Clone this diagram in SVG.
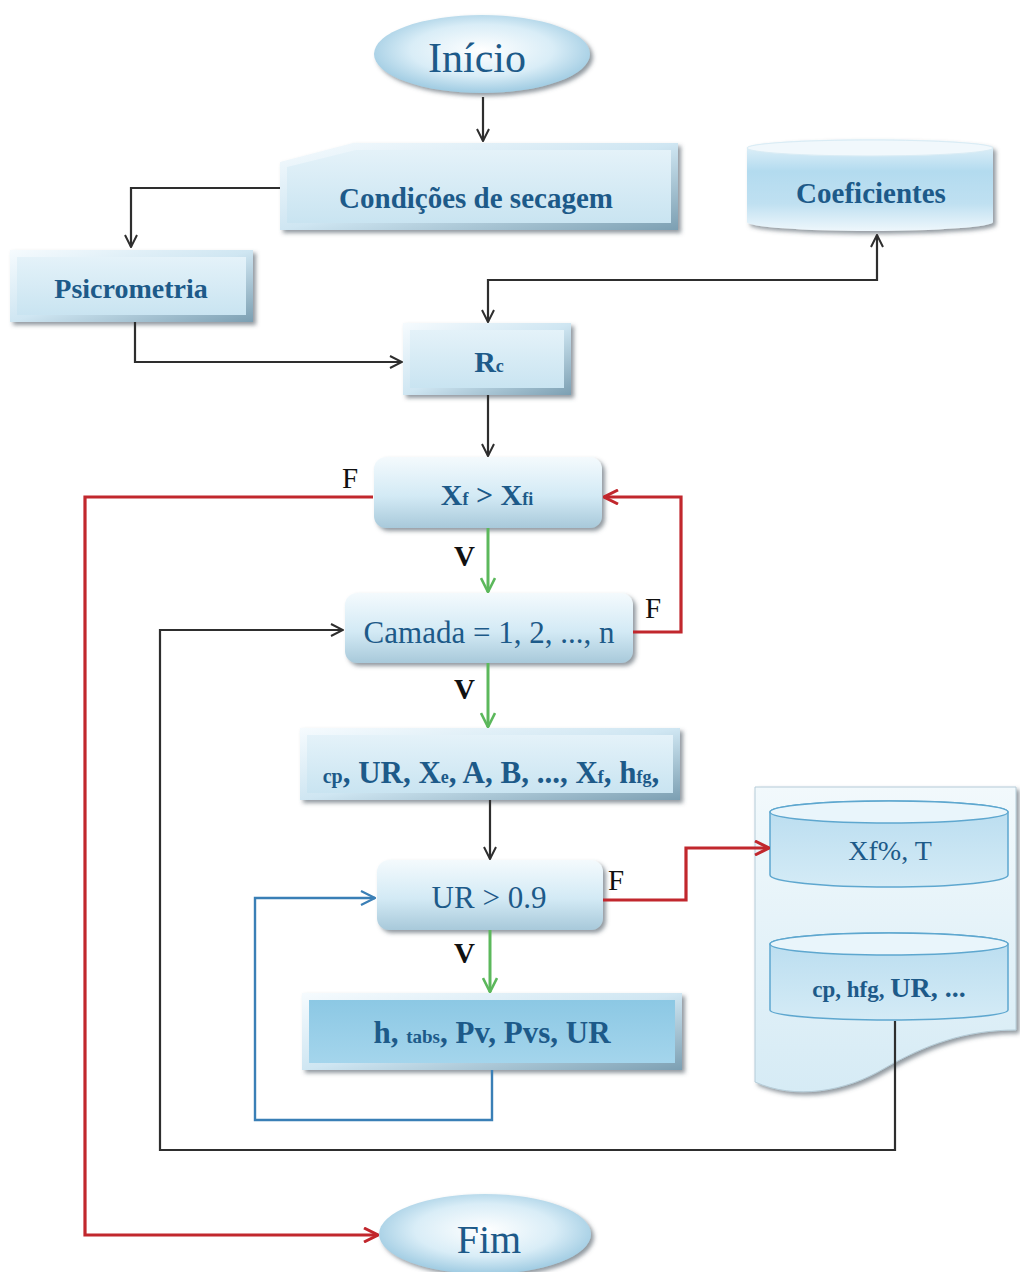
<svg xmlns="http://www.w3.org/2000/svg" width="1020" height="1272" viewBox="0 0 1020 1272">
  <style>
    .lbl { font-family: "Liberation Serif", "Times New Roman", serif; fill: #1d5a89; text-anchor: middle; }
    .b { font-weight: bold; }
    .yn { font-family: "Liberation Serif", "Times New Roman", serif; fill: #111; font-size: 29px; }
    .k { fill: none; stroke: #2e2e2e; stroke-width: 2.2; }
    .r { fill: none; stroke: #c1272d; stroke-width: 3.2; }
    .g { fill: none; stroke: #5cb85c; stroke-width: 3; }
    .bl { fill: none; stroke: #3a7fb6; stroke-width: 2.4; }
  </style>
  <defs>
    <filter id="sh" x="-10%" y="-20%" width="125%" height="150%">
      <feDropShadow dx="3" dy="3" stdDeviation="2" flood-color="#4a5560" flood-opacity="0.6"/>
    </filter>
    <linearGradient id="bevel" x1="0" y1="0" x2="1" y2="1">
      <stop offset="0" stop-color="#f6fbfe"/>
      <stop offset="0.5" stop-color="#cfe6f2"/>
      <stop offset="1" stop-color="#7c9fb2"/>
    </linearGradient>
    <linearGradient id="face" x1="0" y1="0" x2="0" y2="1">
      <stop offset="0" stop-color="#e4f2f9"/>
      <stop offset="1" stop-color="#c9e4f1"/>
    </linearGradient>
    <linearGradient id="faceDark" x1="0" y1="0" x2="0" y2="1">
      <stop offset="0" stop-color="#8cc8e4"/>
      <stop offset="1" stop-color="#a4d5ec"/>
    </linearGradient>
    <linearGradient id="round" x1="0" y1="0" x2="0" y2="1">
      <stop offset="0" stop-color="#f4fafd"/>
      <stop offset="0.55" stop-color="#d3eaf5"/>
      <stop offset="1" stop-color="#a8c9da"/>
    </linearGradient>
    <radialGradient id="oval" cx="0.5" cy="0.45" r="0.55">
      <stop offset="0" stop-color="#ffffff"/>
      <stop offset="0.6" stop-color="#d9edf7"/>
      <stop offset="1" stop-color="#9fcbe2"/>
    </radialGradient>
    <linearGradient id="cyl" x1="0" y1="0" x2="0" y2="1">
      <stop offset="0" stop-color="#eaf5fb"/>
      <stop offset="0.35" stop-color="#b3dbef"/>
      <stop offset="0.7" stop-color="#bfe0f1"/>
      <stop offset="1" stop-color="#eef7fc"/>
    </linearGradient>
    <linearGradient id="cyl2" x1="0" y1="0" x2="0" y2="1">
      <stop offset="0" stop-color="#b8dcef"/>
      <stop offset="1" stop-color="#d4ebf6"/>
    </linearGradient>
    <linearGradient id="doc" x1="0" y1="0" x2="0" y2="1">
      <stop offset="0" stop-color="#f2f9fc"/>
      <stop offset="1" stop-color="#d6ebf5"/>
    </linearGradient>
    <marker id="ak" viewBox="0 0 14 14" refX="13" refY="7" markerWidth="14" markerHeight="14" markerUnits="userSpaceOnUse" orient="auto-start-reverse">
      <path d="M1,1 L13,7 L1,13" fill="none" stroke="#2e2e2e" stroke-width="2"/>
    </marker>
    <marker id="ar" viewBox="0 0 16 16" refX="15" refY="8" markerWidth="16" markerHeight="16" markerUnits="userSpaceOnUse" orient="auto">
      <path d="M1,1 L15,8 L1,15" fill="none" stroke="#c1272d" stroke-width="3"/>
    </marker>
    <marker id="ag" viewBox="0 0 16 16" refX="15" refY="8" markerWidth="16" markerHeight="16" markerUnits="userSpaceOnUse" orient="auto">
      <path d="M1,1 L15,8 L1,15" fill="none" stroke="#5cb85c" stroke-width="2.6"/>
    </marker>
    <marker id="ab" viewBox="0 0 16 16" refX="15" refY="8" markerWidth="16" markerHeight="16" markerUnits="userSpaceOnUse" orient="auto">
      <path d="M1,1 L15,8 L1,15" fill="none" stroke="#3a7fb6" stroke-width="2.2"/>
    </marker>
  </defs>

  <rect width="1020" height="1272" fill="#ffffff"/>

  <g id="inicio">
    <ellipse cx="482" cy="54" rx="108" ry="39" fill="url(#oval)" filter="url(#sh)"/>
    <text class="lbl" x="477" y="72" font-size="42">Início</text>
  </g>

  <g id="condicoes">
    <polygon points="280,162 353,143 678,143 678,230 280,230" fill="url(#bevel)" filter="url(#sh)"/>
    <polygon points="287,167 356,150 671,150 671,223 287,223" fill="url(#face)"/>
    <text class="lbl b" x="476" y="208" font-size="29">Condições de secagem</text>
  </g>

  <g id="coeficientes">
    <path d="M747,148 V222 A123,9 0 0 0 993,222 V148 A123,9 0 0 0 747,148 Z" fill="url(#cyl)" filter="url(#sh)"/>
    <ellipse cx="870" cy="148" rx="123" ry="8" fill="#f1f8fc" stroke="#d9ecf5" stroke-width="1"/>
    <text class="lbl b" x="871" y="203" font-size="29">Coeficientes</text>
  </g>

  <g id="psicrometria">
    <rect x="10" y="250" width="243" height="72" fill="url(#bevel)" filter="url(#sh)"/>
    <rect x="17" y="257" width="229" height="58" fill="url(#face)"/>
    <text class="lbl b" x="131" y="298" font-size="28">Psicrometria</text>
  </g>

  <g id="rc">
    <rect x="403" y="323" width="168" height="72" fill="url(#bevel)" filter="url(#sh)"/>
    <rect x="410" y="330" width="154" height="58" fill="url(#face)"/>
    <text class="lbl b" x="489" y="372" font-size="30">R<tspan font-size="18">c</tspan></text>
  </g>

  <g id="xf-test">
    <rect x="374" y="457" width="228" height="71" rx="12" fill="url(#round)" filter="url(#sh)"/>
    <text class="lbl b" x="487" y="505" font-size="30">X<tspan font-size="18">f</tspan> &gt; X<tspan font-size="18">fi</tspan></text>
  </g>

  <g id="camada">
    <rect x="345" y="593" width="288" height="70" rx="12" fill="url(#round)" filter="url(#sh)"/>
    <text class="lbl" x="489" y="643" font-size="31">Camada = 1, 2, ..., n</text>
  </g>

  <g id="propriedades">
    <rect x="300" y="728" width="380" height="72" fill="url(#bevel)" filter="url(#sh)"/>
    <rect x="307" y="735" width="366" height="58" fill="url(#face)"/>
    <text class="lbl b" x="491" y="783" font-size="31"><tspan font-size="20">cp</tspan>, UR, X<tspan font-size="18">e</tspan>, A, B, ..., X<tspan font-size="18">f</tspan>, h<tspan font-size="18">fg</tspan>,</text>
  </g>

  <g id="ur-test">
    <rect x="377" y="860" width="226" height="70" rx="12" fill="url(#round)" filter="url(#sh)"/>
    <text class="lbl" x="489" y="908" font-size="31">UR &gt; 0.9</text>
  </g>

  <g id="saturacao">
    <rect x="302" y="993" width="380" height="77" fill="url(#bevel)" filter="url(#sh)"/>
    <rect x="309" y="1000" width="366" height="63" fill="url(#faceDark)"/>
    <text class="lbl b" x="492" y="1043" font-size="31">h, <tspan font-size="19">tabs</tspan>, Pv, Pvs, UR</text>
  </g>

  <g id="saida">
    <path d="M755,787 H1016 V1030 C965,1030 925,1045 885,1068 C845,1092 795,1100 755,1082 Z" fill="url(#doc)" stroke="#b5ccd8" stroke-width="1" filter="url(#sh)"/>
    <path d="M770,812 V875 A119,12 0 0 0 1008,875 V812 A119,11 0 0 0 770,812 Z" fill="url(#cyl2)" stroke="#5ea7cf" stroke-width="1.5"/>
    <ellipse cx="889" cy="812" rx="119" ry="11" fill="#e9f5fb" stroke="#5ea7cf" stroke-width="1.5"/>
    <text class="lbl" x="890" y="860" font-size="28">Xf%, T</text>
    <path d="M770,944 V1010 A119,10 0 0 0 1008,1010 V944 A119,11 0 0 0 770,944 Z" fill="url(#cyl2)" stroke="#5ea7cf" stroke-width="1.5"/>
    <ellipse cx="889" cy="944" rx="119" ry="11" fill="#e9f5fb" stroke="#5ea7cf" stroke-width="1.5"/>
    <text class="lbl b" x="889" y="997" font-size="28"><tspan font-size="23">cp, hfg, </tspan>UR, ...</text>
  </g>

  <g id="fim">
    <ellipse cx="485" cy="1234" rx="106" ry="40" fill="url(#oval)" filter="url(#sh)"/>
    <text class="lbl" x="489" y="1253" font-size="40">Fim</text>
  </g>

  <!-- connectors, drawn over the nodes so the arrow into the output sheet stays visible -->
  <g id="connectors">
    <path class="k" d="M483,97 V141" marker-end="url(#ak)"/>
    <path class="k" d="M280,188 H131 V247" marker-end="url(#ak)"/>
    <path class="k" d="M135,322 V362 H402" marker-end="url(#ak)"/>
    <path class="k" d="M488,322 V280 H877 V235" marker-start="url(#ak)" marker-end="url(#ak)"/>
    <path class="k" d="M488,395 V456" marker-end="url(#ak)"/>
    <path class="r" d="M373,497 H85 V1235 H378" marker-end="url(#ar)"/>
    <path class="g" d="M488,528 V592" marker-end="url(#ag)"/>
    <path class="r" d="M633,632 H681 V497 H604" marker-end="url(#ar)"/>
    <path class="g" d="M488,663 V727" marker-end="url(#ag)"/>
    <path class="k" d="M490,800 V859" marker-end="url(#ak)"/>
    <path class="r" d="M603,900 H686 V848 H769" marker-end="url(#ar)"/>
    <path class="g" d="M490,930 V992" marker-end="url(#ag)"/>
    <path class="bl" d="M492,1070 V1120 H255 V898 H375" marker-end="url(#ab)"/>
    <path class="k" d="M895,1021 V1150 H160 V630 H343" marker-end="url(#ak)"/>
  </g>

  <!-- branch labels -->
  <g id="branch-labels">
    <text class="yn" x="342" y="488">F</text>
    <text class="yn b" x="454" y="566">V</text>
    <text class="yn" x="645" y="618">F</text>
    <text class="yn b" x="454" y="699">V</text>
    <text class="yn" x="608" y="890">F</text>
    <text class="yn b" x="454" y="963">V</text>
  </g>
</svg>
